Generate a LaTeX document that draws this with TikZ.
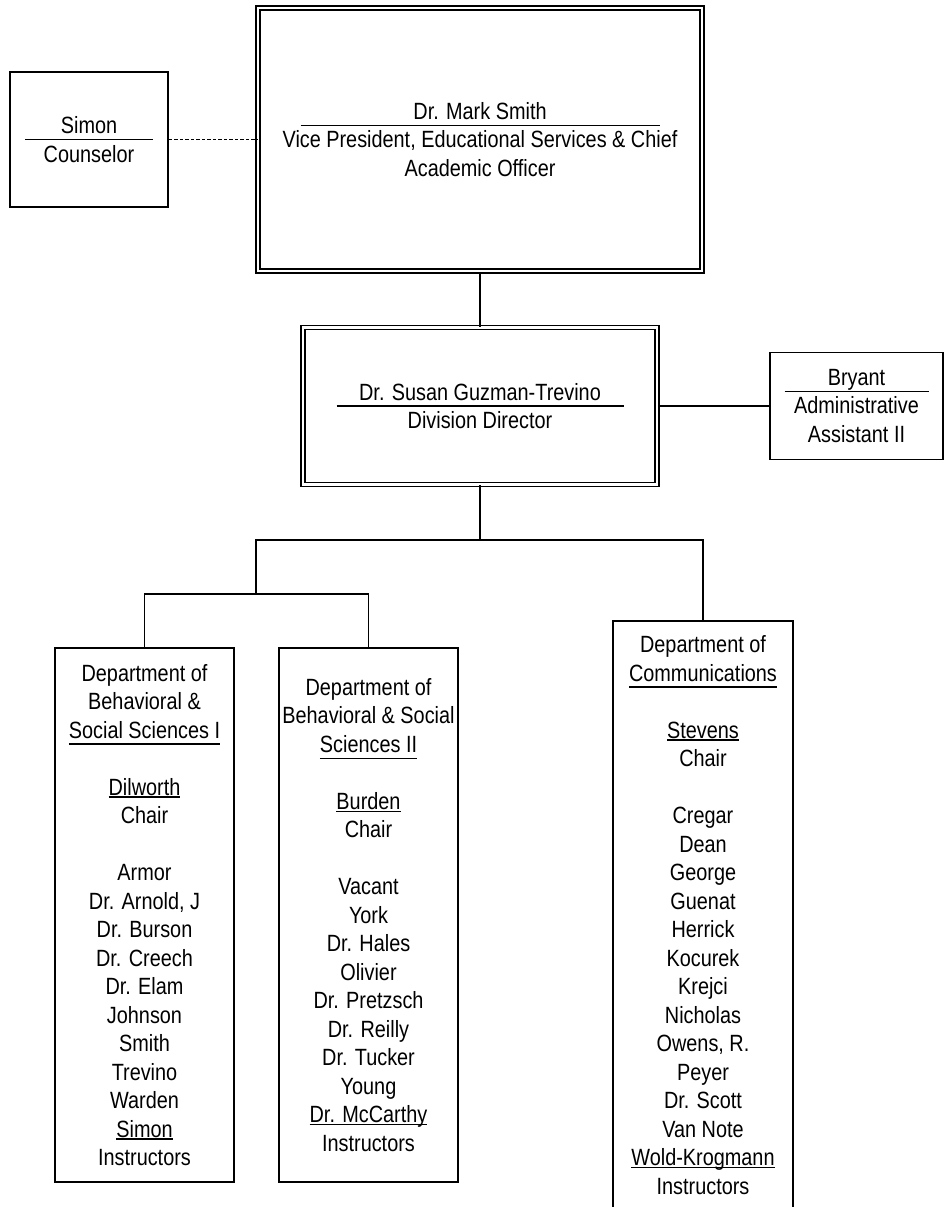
\documentclass[tikz,border=0pt]{standalone}
\usepackage{fontspec}
\setmainfont[FakeStretch=0.845]{Liberation Sans}
\newcommand{\namerule}[2]{\makebox[0pt]{\rule[-6.8pt]{#1}{1.6pt}}\makebox[0pt]{#2}}
\newcommand{\uname}[1]{\setbox0\hbox{#1}\rlap{\rule[-2.4pt]{\wd0}{1.3pt}}\box0}
\newcommand{\uhead}[1]{\setbox0\hbox{#1}\rlap{\rule[-6.8pt]{\wd0}{1.6pt}}\box0}

\begin{document}
\begin{tikzpicture}[x=1pt, y=-1pt, line width=1.6pt,
    box/.style={draw, inner sep=0pt, align=center, font=\fontsize{23.5pt}{28.5pt}\selectfont},
    dbox/.style={box, double, double distance=2.6pt}]
    \useasboundingbox (0,0) rectangle (944,1207);

    \node[dbox, minimum width=444pt, minimum height=263pt] (smith) at (480,139.5)
        {\namerule{359pt}{Dr. Mark Smith}\\Vice President, Educational Services \& Chief\\Academic Officer};
    \node[box, minimum width=158pt, minimum height=135pt] (simon) at (89,139.5)
        {\namerule{128pt}{Simon}\\Counselor};
    \node[dbox, minimum width=354pt, minimum height=157pt] (guzman) at (480,406)
        {\namerule{287pt}{Dr. Susan Guzman-Trevino}\\Division Director};
    \node[box, minimum width=173pt, minimum height=107pt] (bryant) at (856.5,406)
        {\namerule{144pt}{Bryant}\\Administrative\\Assistant II};

    \node[box, minimum width=179pt, minimum height=534pt] (dept1) at (144.5,915)
        {Department of\\Behavioral \&\\\uhead{Social Sciences I}\\[28.5pt]
         \uname{Dilworth}\\Chair\\[28.5pt]
         Armor\\Dr. Arnold, J\\Dr. Burson\\Dr. Creech\\Dr. Elam\\Johnson\\Smith\\Trevino\\Warden\\
         \uname{Simon}\\Instructors};
    \node[box, minimum width=179pt, minimum height=534pt] (dept2) at (368.5,915)
        {Department of\\Behavioral \& Social\\\uhead{Sciences II}\\[28.5pt]
         \uname{Burden}\\Chair\\[28.5pt]
         Vacant\\York\\Dr. Hales\\Olivier\\Dr. Pretzsch\\Dr. Reilly\\Dr. Tucker\\Young\\
         \uname{Dr. McCarthy}\\Instructors};
    \node[box, minimum width=180pt, minimum height=588pt] (comm) at (703,915)
        {Department of\\\uhead{Communications}\\[28.5pt]
         \uname{Stevens}\\Chair\\[28.5pt]
         Cregar\\Dean\\George\\Guenat\\Herrick\\Kocurek\\Krejci\\Nicholas\\Owens, R.\\Peyer\\
         Dr. Scott\\Van Note\\\uname{Wold-Krogmann}\\Instructors};

    \draw[dash pattern=on 3.5pt off 2pt] (simon.east) -- (smith.west);
    \draw (smith.south) -- (guzman.north);
    \draw (guzman.east) -- (bryant.west);

    \coordinate (trunk) at (480,540);
    \coordinate (split) at (256,594);
    \draw (guzman.south) -- (trunk);
    \draw (trunk) -| (comm.north);
    \draw (trunk) -| (split);
    \draw (dept1.north) |- (split) -| (dept2.north);
\end{tikzpicture}
\end{document}
